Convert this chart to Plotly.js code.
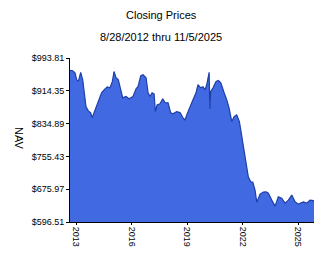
<!DOCTYPE html>
<html>
<head>
<meta charset="utf-8">
<script src="https://cdn.plot.ly/plotly-3.0.1.min.js"></script>
<style>html,body{margin:0;padding:0;background:#fff;}#chart{width:324px;height:267px;}</style>
</head>
<body>
<div id="chart"></div>
<script>
const dates = ["2012-08-28","2012-10-20","2012-12-05","2013-01-08","2013-02-09","2013-03-27","2013-05-06","2013-06-01","2013-07-10","2013-08-25","2013-10-11","2013-11-06","2013-12-15","2014-02-06","2014-03-30","2014-05-16","2014-07-20","2014-09-04","2014-10-27","2014-12-12","2015-01-14","2015-02-23","2015-04-09","2015-05-26","2015-07-05","2015-09-08","2015-11-06","2016-01-24","2016-03-24","2016-05-03","2016-06-25","2016-08-09","2016-10-08","2016-11-16","2016-12-26","2017-02-03","2017-03-15","2017-04-10","2017-05-13","2017-07-10","2017-09-02","2017-10-17","2017-12-16","2018-02-06","2018-03-23","2018-06-04","2018-08-09","2018-10-07","2018-11-15","2018-12-19","2019-02-22","2019-04-22","2019-06-21","2019-07-30","2019-09-22","2019-11-06","2019-12-16","2020-01-18","2020-03-06","2020-03-20","2020-04-06","2020-05-22","2020-07-20","2020-09-04","2020-10-22","2020-12-01","2020-12-27","2021-02-17","2021-04-03","2021-05-27","2021-07-11","2021-09-02","2021-10-24","2021-11-20","2021-12-10","2022-01-08","2022-02-13","2022-03-18","2022-04-19","2022-06-05","2022-07-15","2022-08-29","2022-10-02","2022-12-06","2023-02-09","2023-04-04","2023-05-19","2023-07-25","2023-09-28","2023-12-02","2024-02-07","2024-04-12","2024-06-17","2024-08-23","2024-10-27","2024-12-31","2025-04-09","2025-06-15","2025-08-19","2025-10-23","2025-11-05"];
const nav = [963.7,963.0,958.0,941.0,937.0,959.0,941.0,909.5,875.5,865.7,861.0,848.8,861.0,875.5,892.5,910.0,919.0,924.0,921.6,937.0,961.0,946.0,941.0,912.6,897.3,900.5,895.0,900.5,919.0,924.8,950.8,953.2,946.0,909.5,900.5,909.5,907.0,864.0,880.3,882.7,895.0,886.0,885.2,861.0,858.5,864.0,861.6,848.8,844.0,856.0,873.0,892.5,909.5,929.0,921.6,924.0,916.8,929.0,959.0,870.6,912.6,921.6,937.0,939.4,933.8,916.8,909.5,892.5,873.0,839.7,852.0,856.0,839.7,819.6,803.3,788.0,758.8,722.4,705.4,694.0,693.2,673.8,644.6,664.0,669.0,669.6,666.5,649.5,635.0,657.5,654.3,642.2,649.5,661.7,645.3,639.8,645.3,642.2,649.5,648.3,645.3];
const yTickVals = [596.51,675.97,755.43,834.89,914.35,993.81];
const yTickText = ["$596.51","$675.97","$755.43","$834.89","$914.35","$993.81"];
const xTickVals = ["2013-01-01","2016-01-01","2019-01-01","2022-01-01","2025-01-01"];
const xTickText = ["2013","2016","2019","2022","2025"];

const fam = "Liberation Sans, Arial, sans-serif";
const tickFont = {family:fam, size:9, color:"#000"};
const titleFont = {family:fam, size:11, color:"#000"};
Plotly.newPlot("chart", [{
  x: dates, y: nav, type: "scatter", mode: "lines",
  fill: "tozeroy", fillcolor: "#4169E1",
  line: {color: "#1f3fa8", width: 1.2},
  hoverinfo: "skip"
}], {
  width: 324, height: 267,
  margin: {l:70, r:10, t:58, b:45},
  paper_bgcolor: "#fff", plot_bgcolor: "#fff",
  font: tickFont,
  showlegend: false,
  xaxis: {
    type: "date", range: ["2012-08-28","2025-11-05"],
    tickvals: xTickVals, ticktext: xTickText, tickangle: 90,
    showgrid: false, zeroline: false, showline: true, linecolor: "#000", linewidth: 1,
    ticks: "outside", ticklen: 2, tickcolor: "#000", tickfont: tickFont
  },
  yaxis: {
    range: [596.51, 993.81],
    tickvals: yTickVals, ticktext: yTickText,
    showgrid: false, zeroline: false, showline: true, linecolor: "#000", linewidth: 1,
    ticks: "outside", ticklen: 3, tickcolor: "#000", tickfont: tickFont
  },
  annotations: [
    {text:"Closing Prices", xref:"paper", yref:"paper", x:0.373, y:1, yshift:43, showarrow:false, xanchor:"center", yanchor:"middle", font:titleFont},
    {text:"8/28/2012 thru 11/5/2025", xref:"paper", yref:"paper", x:0.373, y:1, yshift:21, showarrow:false, xanchor:"center", yanchor:"middle", font:titleFont},
    {text:"NAV", xref:"paper", yref:"paper", x:0, xshift:-51, y:0.5, yshift:2, textangle:90, showarrow:false, xanchor:"center", yanchor:"middle", font:titleFont}
  ]
}, {staticPlot: true, displayModeBar: false});
</script>
</body>
</html>
